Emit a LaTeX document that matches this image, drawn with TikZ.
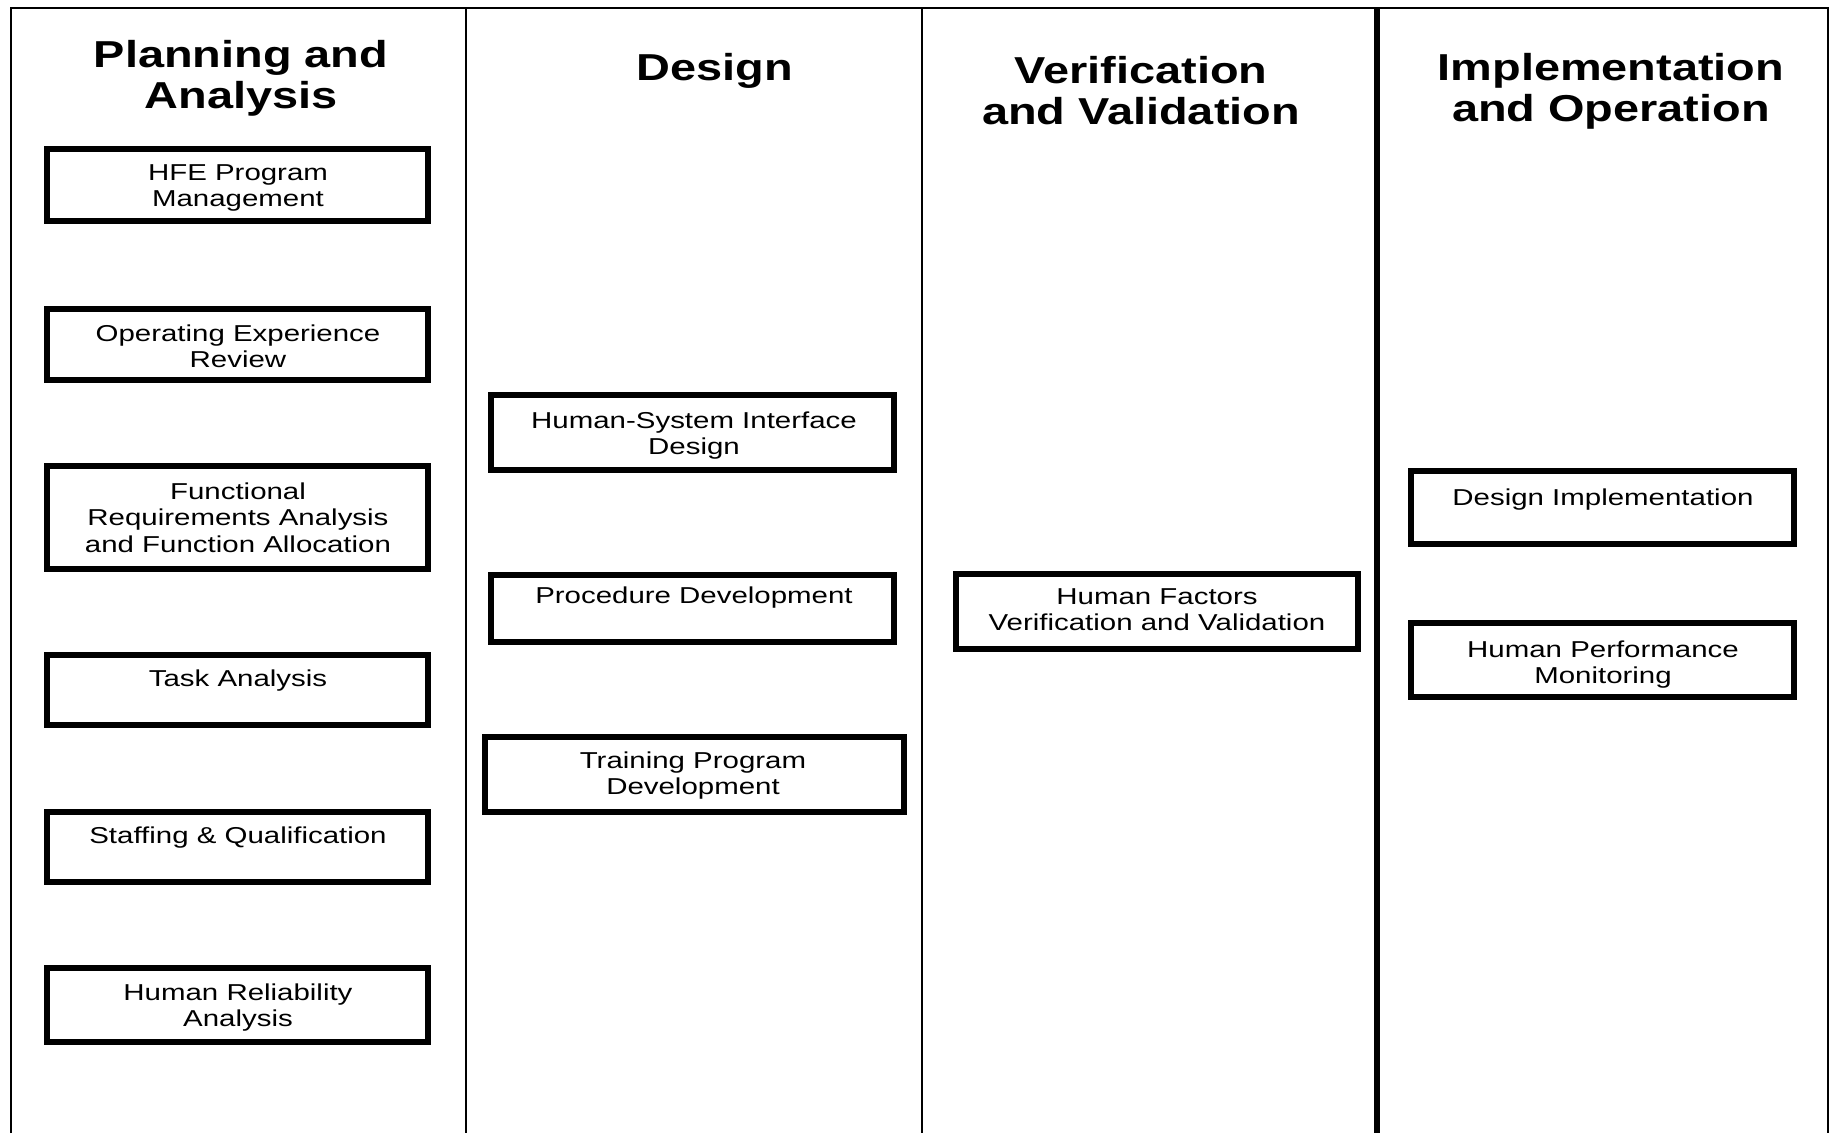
\documentclass[tikz,border=0pt]{standalone}
\usepackage{fontspec}
\newfontfamily\boxfont[FakeStretch=1.28]{Liberation Sans}
\newfontfamily\titlefont[FakeStretch=1.25]{Liberation Sans}
\newcommand\bxstrut{\rule{0pt}{20pt}}
\newcommand\ttstrut{\rule{0pt}{32pt}}
\begin{document}
\begin{tikzpicture}[x=1pt,y=-1pt,
  frame/.style={line width=2.5pt,black},
  thickframe/.style={line width=6pt,black},
  stagebox/.style={draw,line width=6pt,inner sep=0pt,rectangle},
  boxtext/.style={inner sep=0pt,align=center,anchor=north,
    font=\boxfont\fontsize{23}{26.5}\selectfont},
  titletext/.style={inner sep=0pt,align=center,anchor=north,
    font=\titlefont\bfseries\fontsize{37.5}{41.5}\selectfont}]
\useasboundingbox (0,0) rectangle (1830,1133);
% frame and columns
\coordinate (tl) at (11,8);
\coordinate (tr) at (1828,8);
\coordinate (bl) at (11,1133);
\coordinate (br) at (1828,1133);
\coordinate (d1t) at (466,8);
\coordinate (d1b) at (466,1133);
\coordinate (d2t) at (922,8);
\coordinate (d2b) at (922,1133);
\coordinate (d3t) at (1377,8);
\coordinate (d3b) at (1377,1133);
\draw[frame] (bl) -- (tl) -- (tr) -- (br);
\draw[frame] (d1t) -- (d1b);
\draw[frame] (d2t) -- (d2b);
\draw[thickframe] (d3t) -- (d3b);
% titles
\node[titletext] (t1) at (241,{67-32}) {\ttstrut Planning and\\Analysis};
\node[titletext] (t2) at (715,{80-32}) {\ttstrut Design};
\node[titletext] (t3) at (1141,{83-32}) {\ttstrut Verification\\and Validation};
\node[titletext] (t4) at (1611,{80-32}) {\ttstrut Implementation\\and Operation};
% boxes: name, x1, y1, x2, y2, text centre x, first baseline, text
\newcommand\stagenode[8]{%
  \node[stagebox,minimum width={#4-#2-6},minimum height={#5-#3-6}]
    (#1) at ({(#2+#4)/2},{(#3+#5)/2}) {};
  \node[boxtext] (#1-t) at (#6,{#7-20}) {\bxstrut #8};
}
\stagenode{hfe}{44}{146}{431}{224}{238}{180}{HFE Program\\Management}
\stagenode{oer}{44}{306}{431}{383}{238}{341}{Operating Experience\\Review}
\stagenode{fra}{44}{463}{431}{572}{238}{499}{Functional\\Requirements Analysis\\and Function Allocation}
\stagenode{ta}{44}{652}{431}{728}{238}{686}{Task Analysis}
\stagenode{sq}{44}{809}{431}{885}{238}{843}{Staffing \& Qualification}
\stagenode{hra}{44}{965}{431}{1045}{238}{1000}{Human Reliability\\Analysis}
\stagenode{hsi}{488}{392}{897}{473}{694}{428}{Human-System Interface\\Design}
\stagenode{pd}{488}{572}{897}{645}{694}{603}{Procedure Development}
\stagenode{tpd}{482}{734}{907}{815}{693}{768}{Training Program\\Development}
\stagenode{vv}{953}{571}{1361}{652}{1157}{604}{Human Factors\\Verification and Validation}
\stagenode{di}{1408}{468}{1797}{547}{1603}{505}{Design Implementation}
\stagenode{hpm}{1408}{620}{1797}{700}{1603}{657}{Human Performance\\Monitoring}
\end{tikzpicture}
\end{document}
